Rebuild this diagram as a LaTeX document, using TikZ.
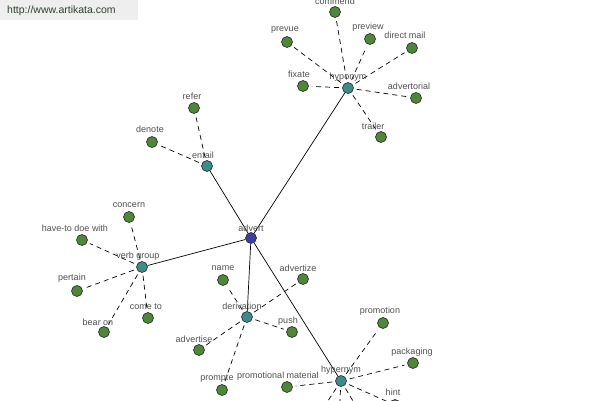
\documentclass[tikz,border=0pt]{standalone}
\usepackage{fontspec}
\setmainfont{Liberation Sans}
\definecolor{leafgreen}{RGB}{78,135,58}
\definecolor{hubteal}{RGB}{60,140,140}
\definecolor{rootblue}{RGB}{62,62,160}
\definecolor{labelgray}{RGB}{80,80,80}
\definecolor{wmgray}{RGB}{238,238,238}
\definecolor{wmtext}{RGB}{45,65,45}
\begin{document}
\begin{tikzpicture}[x=1pt,y=-1pt,
  leafnode/.style={circle,draw=black!85,fill=leafgreen,minimum size=11pt,inner sep=0pt,line width=0.6pt},
  hubnode/.style={leafnode,fill=hubteal},
  rootnode/.style={leafnode,fill=rootblue},
  lbl/.style={font=\fontsize{9}{10}\selectfont,text=labelgray,inner sep=0pt},
  solidedge/.style={draw=black,line width=0.7pt},
  dashedge/.style={draw=black,line width=0.7pt,dash pattern=on 5pt off 4pt,shorten <=3pt,shorten >=3pt}]
\useasboundingbox (0,0) rectangle (600,400);
\fill[white] (0,0) rectangle (600,400);
\fill[wmgray] (0,0) rectangle (138,20);
\node[anchor=west,font=\fontsize{10.5}{11}\selectfont,text=wmtext,inner sep=0pt] (wm) at (7,11) {http://www.artikata.com};

% hubs
\node[rootnode] (advert) at (251,238) {};
\node[hubnode] (hyponym) at (348,88) {};
\node[hubnode] (entail) at (207,166) {};
\node[hubnode] (verbgroup) at (142,267) {};
\node[hubnode] (derivation) at (247,317) {};
\node[hubnode] (hypernym) at (341,381) {};

% leaves
\node[leafnode] (commend) at (335,12) {};
\node[leafnode] (prevue) at (287,42) {};
\node[leafnode] (preview) at (370,39) {};
\node[leafnode] (directmail) at (412,48) {};
\node[leafnode] (fixate) at (303,86) {};
\node[leafnode] (advertorial) at (416,98) {};
\node[leafnode] (trailer) at (381,137) {};
\node[leafnode] (refer) at (194,108) {};
\node[leafnode] (denote) at (152,142) {};
\node[leafnode] (concern) at (129,217) {};
\node[leafnode] (havetodoe) at (82,240) {};
\node[leafnode] (pertain) at (77,291) {};
\node[leafnode] (cometo) at (148,318) {};
\node[leafnode] (bearon) at (104,332) {};
\node[leafnode] (name) at (223,280) {};
\node[leafnode] (advertize) at (303,279) {};
\node[leafnode] (push) at (292,332) {};
\node[leafnode] (advertise) at (199,350) {};
\node[leafnode] (prompte) at (222,390) {};
\node[leafnode] (promomat) at (287,387) {};
\node[leafnode] (promotion) at (383,323) {};
\node[leafnode] (packaging) at (413,363) {};
\node[leafnode] (hint) at (395,405) {};
\coordinate (off1) at (318,416);
\coordinate (off2) at (339,418);
\coordinate (off3) at (362,416);

% solid edges
\foreach \h in {hyponym,entail,verbgroup,derivation,hypernym}
  \draw[solidedge] (advert) -- (\h);

% dashed edges
\foreach \l in {commend,prevue,preview,directmail,fixate,advertorial,trailer}
  \draw[dashedge] (hyponym) -- (\l);
\foreach \l in {refer,denote}
  \draw[dashedge] (entail) -- (\l);
\foreach \l in {concern,havetodoe,pertain,cometo,bearon}
  \draw[dashedge] (verbgroup) -- (\l);
\foreach \l in {name,advertize,push,advertise,prompte}
  \draw[dashedge] (derivation) -- (\l);
\foreach \l in {promomat,promotion,packaging,hint,off1,off2,off3}
  \draw[dashedge] (hypernym) -- (\l);

% labels
\node[lbl] (l-advert) at (251,228) {advert};
\node[lbl] (l-hyponym) at (348,77) {hyponym};
\node[lbl] (l-entail) at (203,155) {entail};
\node[lbl] (l-verbgroup) at (138,256) {verb group};
\node[lbl] (l-derivation) at (242,306) {derivation};
\node[lbl] (l-hypernym) at (341,370) {hypernym};
\node[lbl] (l-commend) at (335,1) {commend};
\node[lbl] (l-prevue) at (285,30) {prevue};
\node[lbl] (l-preview) at (368,27) {preview};
\node[lbl] (l-directmail) at (405,35) {direct mail};
\node[lbl] (l-fixate) at (299,74) {fixate};
\node[lbl] (l-advertorial) at (409,86) {advertorial};
\node[lbl] (l-trailer) at (373,126) {trailer};
\node[lbl] (l-refer) at (192,96) {refer};
\node[lbl] (l-denote) at (150,129) {denote};
\node[lbl] (l-concern) at (129,205) {concern};
\node[lbl] (l-havetodoe) at (75,228) {have-to doe with};
\node[lbl] (l-pertain) at (72,278) {pertain};
\node[lbl] (l-cometo) at (146,307) {come to};
\node[lbl] (l-bearon) at (98,322) {bear on};
\node[lbl] (l-name) at (223,268) {name};
\node[lbl] (l-advertize) at (298,268) {advertize};
\node[lbl] (l-push) at (288,321) {push};
\node[lbl] (l-advertise) at (194,339) {advertise};
\node[lbl] (l-prompte) at (217,379) {prompte};
\node[lbl] (l-promomat) at (278,376) {promotional material};
\node[lbl] (l-promotion) at (380,311) {promotion};
\node[lbl] (l-packaging) at (412,352) {packaging};
\node[lbl] (l-hint) at (393,392) {hint};
\end{tikzpicture}
\end{document}
